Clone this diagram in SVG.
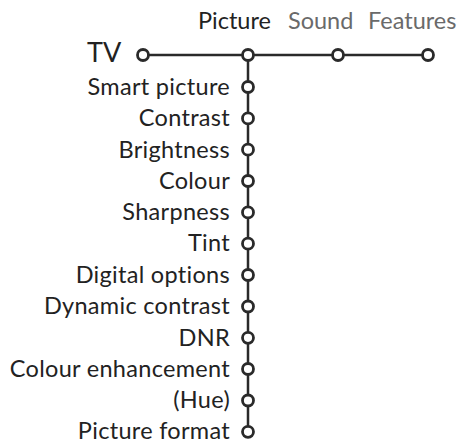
<svg xmlns="http://www.w3.org/2000/svg" width="462" height="443" viewBox="0 0 462 443">
<style>
.l{font-family:Lato,"Open Sans","DejaVu Sans",sans-serif;font-size:23.5px;fill:#222;text-anchor:end;letter-spacing:0.3px}
.t{font-family:Lato,"Open Sans","DejaVu Sans",sans-serif;font-size:23.5px;fill:#222}
.g{fill:#6a6a6a}
.n{fill:#fff;stroke:#2a2a2a;stroke-width:2.8}
.c{stroke:#2a2a2a;stroke-width:2.5;fill:none}
</style>
<g id="connectors">
<line class="c" x1="143" y1="55" x2="428" y2="55"/>
<line class="c" x1="248" y1="55" x2="248" y2="432"/>
</g>
<g id="tv"><text class="t" x="87" y="62" style="font-size:27px">TV</text><circle class="n" cx="143" cy="55" r="5.5"/></g>
<g id="picture"><text class="t" x="198" y="29">Picture</text><circle class="n" cx="248" cy="55" r="5.5"/></g>
<g id="sound"><text class="t g" x="288" y="29">Sound</text><circle class="n" cx="338" cy="55" r="5.5"/></g>
<g id="features"><text class="t g" x="368" y="29">Features</text><circle class="n" cx="428" cy="55" r="5.5"/></g>
<g id="smart-picture"><text class="l" x="230" y="95">Smart picture</text><circle class="n" cx="248" cy="87" r="5.5"/></g>
<g id="contrast"><text class="l" x="230" y="126">Contrast</text><circle class="n" cx="248" cy="118.4" r="5.5"/></g>
<g id="brightness"><text class="l" x="230" y="157.5">Brightness</text><circle class="n" cx="248" cy="149.7" r="5.5"/></g>
<g id="colour"><text class="l" x="230" y="188.5">Colour</text><circle class="n" cx="248" cy="181" r="5.5"/></g>
<g id="sharpness"><text class="l" x="230" y="220">Sharpness</text><circle class="n" cx="248" cy="212.4" r="5.5"/></g>
<g id="tint"><text class="l" x="230" y="251">Tint</text><circle class="n" cx="248" cy="243.7" r="5.5"/></g>
<g id="digital-options"><text class="l" x="230" y="282.5">Digital options</text><circle class="n" cx="248" cy="275" r="5.5"/></g>
<g id="dynamic-contrast"><text class="l" x="230" y="314">Dynamic contrast</text><circle class="n" cx="248" cy="306.5" r="5.5"/></g>
<g id="dnr"><text class="l" x="230" y="345.5">DNR</text><circle class="n" cx="248" cy="337.8" r="5.5"/></g>
<g id="colour-enhancement"><text class="l" x="230" y="376.5">Colour enhancement</text><circle class="n" cx="248" cy="369" r="5.5"/></g>
<g id="hue"><text class="l" x="230" y="408">(Hue)</text><circle class="n" cx="248" cy="400.5" r="5.5"/></g>
<g id="picture-format"><text class="l" x="230" y="439">Picture format</text><circle class="n" cx="248" cy="431.8" r="5.5"/></g>
</svg>
